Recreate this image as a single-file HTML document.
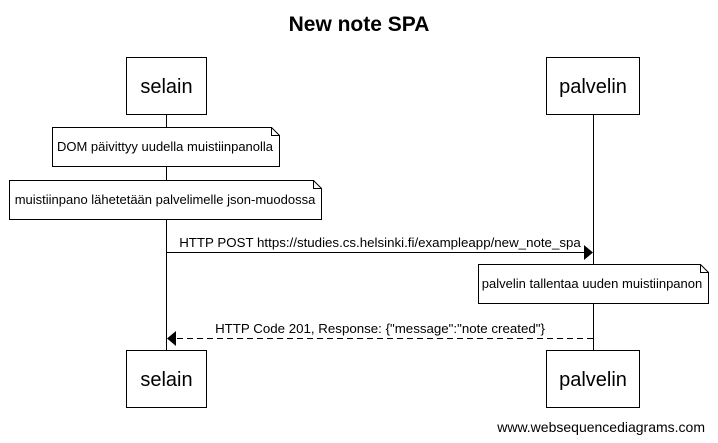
<!DOCTYPE html>
<html><head><meta charset="utf-8"><style>
html,body{margin:0;padding:0;background:#fff;}
svg{display:block;font-family:"Liberation Sans",Arial,sans-serif;}
</style></head><body>
<svg width="718" height="443" viewBox="0 0 718 443" xmlns="http://www.w3.org/2000/svg">
<rect width="718" height="443" fill="#fff"/>
<text x="359" y="31" text-anchor="middle" font-size="21" font-weight="bold">New note SPA</text>
<g stroke="#000" stroke-width="1" fill="#fff" shape-rendering="crispEdges">
<line x1="166.5" y1="114" x2="166.5" y2="350"/>
<line x1="593.5" y1="114" x2="593.5" y2="350"/>
<rect x="126.5" y="57.5" width="80" height="57"/>
<rect x="546.5" y="57.5" width="93" height="57"/>
<rect x="126.5" y="350.5" width="80" height="57"/>
<rect x="546.5" y="350.5" width="93" height="57"/>
</g>
<g stroke="#000" stroke-width="1" fill="#fff">
<path d="M52.5 127.5 H271.5 L279.5 135.5 V166.5 H52.5 Z"/>
<path d="M271.5 127.5 V135.5 H279.5" fill="none"/>
<path d="M9.5 180.5 H313.5 L321.5 188.5 V219.5 H9.5 Z"/>
<path d="M313.5 180.5 V188.5 H321.5" fill="none"/>
<path d="M478.5 264.5 H700.5 L708.5 272.5 V303.5 H478.5 Z"/>
<path d="M700.5 264.5 V272.5 H708.5" fill="none"/>
<line x1="166.5" y1="252.5" x2="585" y2="252.5"/>
<line x1="593" y1="338.5" x2="175" y2="338.5" stroke-dasharray="6,4"/>
</g>
<path d="M584 245 L593 252.5 L584 260 Z" fill="#000"/>
<path d="M176 331 L167 338.5 L176 346 Z" fill="#000"/>
<g font-size="20" text-anchor="middle">
<text x="166.5" y="93">selain</text>
<text x="593" y="93">palvelin</text>
<text x="166.5" y="386">selain</text>
<text x="593" y="386">palvelin</text>
</g>
<g font-size="13" text-anchor="middle">
<text x="165" y="151">DOM päivittyy uudella muistiinpanolla</text>
<text x="165" y="204">muistiinpano lähetetään palvelimelle json-muodossa</text>
<text x="592" y="288">palvelin tallentaa uuden muistiinpanon</text>
</g>
<g font-size="13.3" text-anchor="middle">
<text x="380" y="247">HTTP POST https://studies.cs.helsinki.fi/exampleapp/new_note_spa</text>
<text x="380" y="333">HTTP Code 201, Response: {"message":"note created"}</text>
</g>
<text x="705" y="432" text-anchor="end" font-size="14">www.websequencediagrams.com</text>
</svg>
</body></html>
